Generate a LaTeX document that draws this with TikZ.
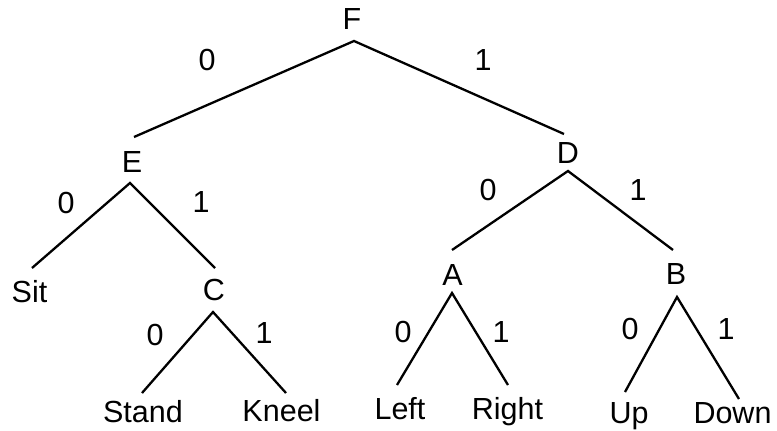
\documentclass[tikz,border=0pt]{standalone}
\usepackage{fontspec}
\setmainfont{Liberation Sans}
\begin{document}
\begin{tikzpicture}[x=1pt,y=-1pt,
  txt/.style={anchor=base,inner sep=0pt,font=\fontsize{30.5}{36}\selectfont},
  bit/.style={txt},
  edge/.style={line width=2.3pt,line cap=butt,line join=miter}]
\useasboundingbox (0,0) rectangle (777,431);

% tree nodes
\node[txt] (F) at (352,30) {F};
\node[txt] (E) at (132,172) {E};
\node[txt] (D) at (568,163) {D};
\node[txt] (Sit) at (29.5,302) {Sit};
\node[txt] (C) at (214,300) {C};
\node[txt] (A) at (452.5,285) {A};
\node[txt] (B) at (676,284) {B};
\node[txt] (Stand) at (143,422) {Stand};
\node[txt] (Kneel) at (281.5,421) {Kneel};
\node[txt] (Left) at (400,419) {Left};
\node[txt] (Right) at (507.5,419) {Right};
\node[txt] (Up) at (629,423) {Up};
\node[txt] (Down) at (732.5,423) {Down};

% attachment points of the branches
\coordinate (F-b) at (354,41);
\coordinate (E-t) at (134,137);
\coordinate (D-t) at (564,134);
\coordinate (E-b) at (130,183);
\coordinate (Sit-t) at (32,268);
\coordinate (C-t) at (215,268);
\coordinate (D-b) at (568,171);
\coordinate (A-t) at (452,250);
\coordinate (B-t) at (673,250);
\coordinate (C-b) at (213,312);
\coordinate (Stand-t) at (142,393);
\coordinate (Kneel-t) at (286,393);
\coordinate (A-b) at (452,293);
\coordinate (Left-t) at (397,385);
\coordinate (Right-t) at (508,385);
\coordinate (B-b) at (677,297);
\coordinate (Up-t) at (625,392);
\coordinate (Down-t) at (739,399);

% branches
\draw[edge] (E-t) -- (F-b) -- (D-t);
\draw[edge] (Sit-t) -- (E-b) -- (C-t);
\draw[edge] (A-t) -- (D-b) -- (B-t);
\draw[edge] (Stand-t) -- (C-b) -- (Kneel-t);
\draw[edge] (Left-t) -- (A-b) -- (Right-t);
\draw[edge] (Up-t) -- (B-b) -- (Down-t);

% branch bits
\node[bit] (fe) at (207,70) {0};
\node[bit] (fd) at (483,70) {1};
\node[bit] (es) at (66,213) {0};
\node[bit] (ec) at (201,212) {1};
\node[bit] (da) at (488,200) {0};
\node[bit] (db) at (638,200) {1};
\node[bit] (cs) at (155,345) {0};
\node[bit] (ck) at (264,343) {1};
\node[bit] (al) at (403,342) {0};
\node[bit] (ar) at (501,342) {1};
\node[bit] (bu) at (630,339) {0};
\node[bit] (bd) at (726,339) {1};
\end{tikzpicture}
\end{document}
